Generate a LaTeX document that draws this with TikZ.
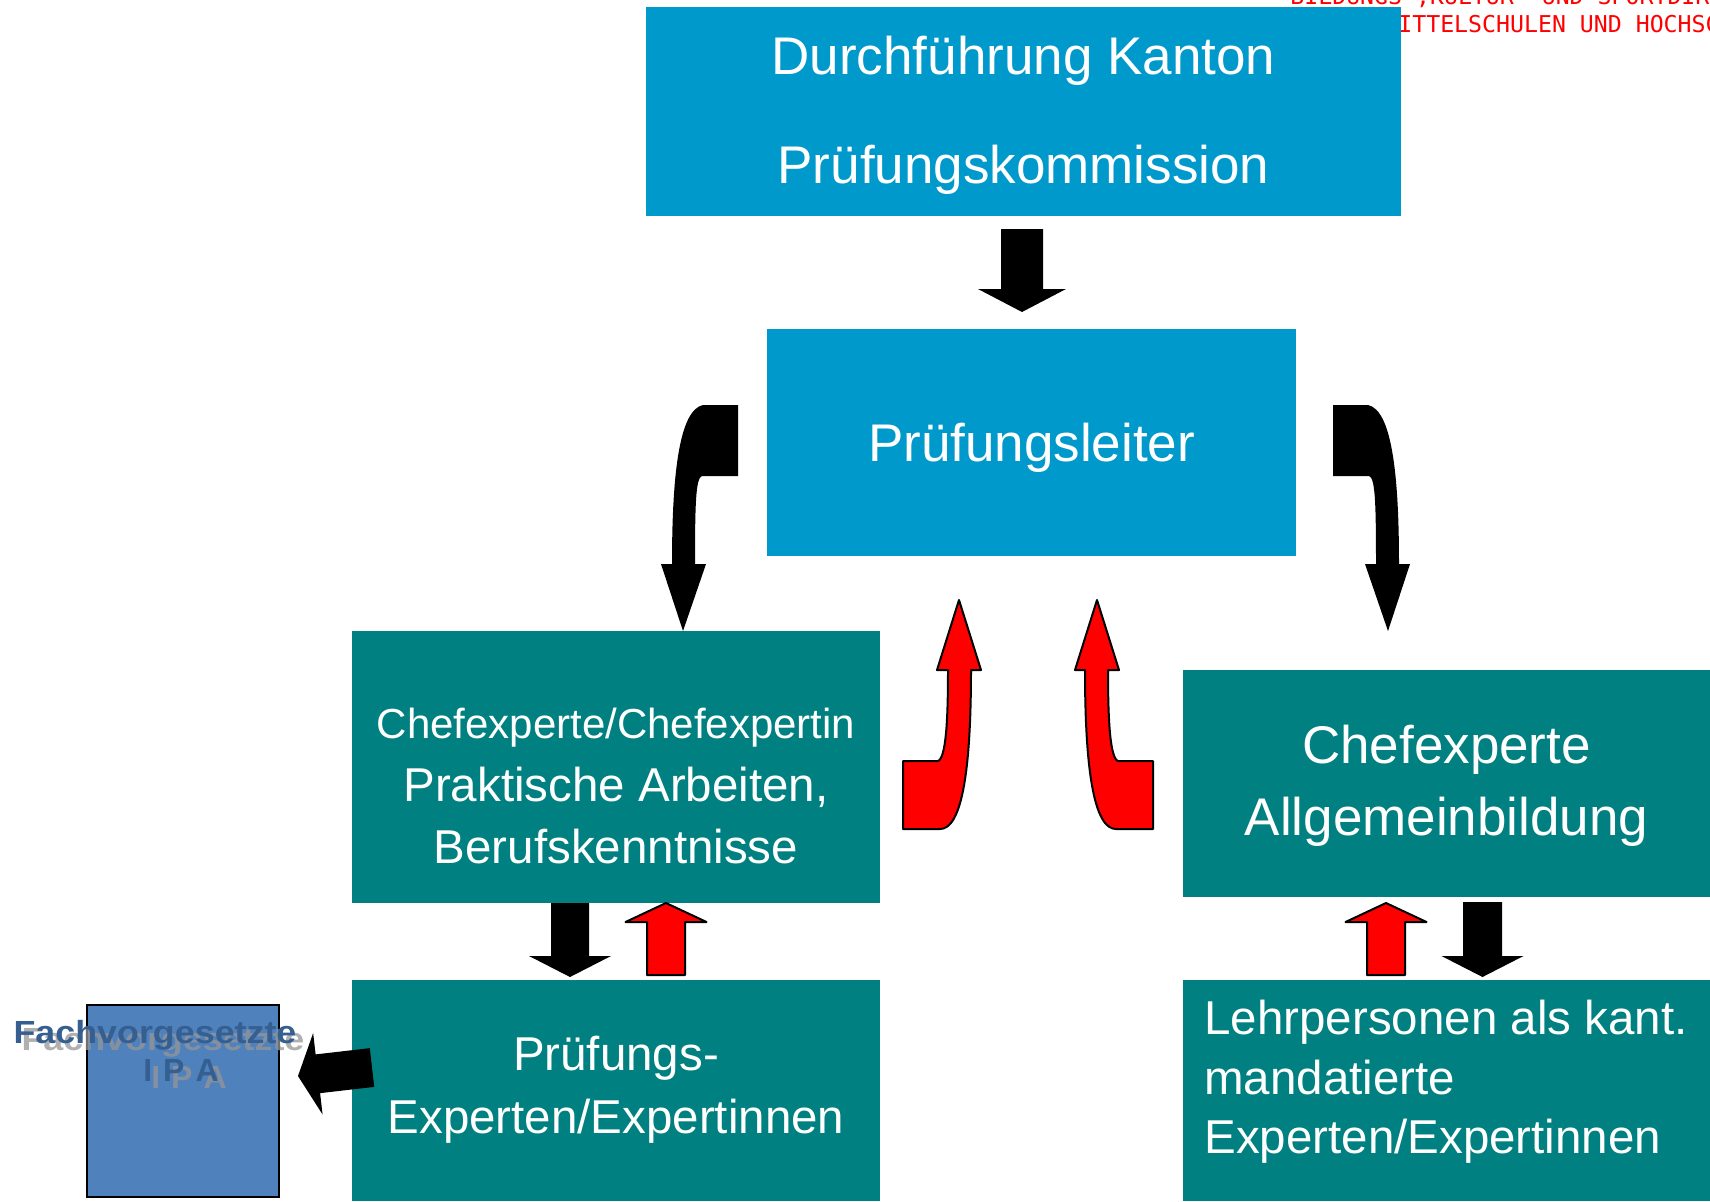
\documentclass[tikz,border=0pt]{standalone}
\usepackage{fontspec}
\setmainfont{Liberation Sans}
\newfontfamily\headfont{DejaVu Sans Mono}
\usepackage{graphicx}
\usetikzlibrary{calc}

\definecolor{kantonblue}{RGB}{0,153,204}
\definecolor{tealgreen}{RGB}{0,128,128}
\definecolor{ipablue}{RGB}{79,129,189}
\definecolor{ipatext}{RGB}{54,95,145}
\definecolor{ipashadow}{RGB}{150,150,150}

\begin{document}
\begin{tikzpicture}[
    x=0.5pt, y=-0.5pt,
    box/.style={rectangle, inner sep=0pt, outer sep=0pt},
    topbox/.style={box, fill=kantonblue},
    tealbox/.style={box, fill=tealgreen},
    ipabox/.style={box, fill=ipablue, draw=black, line width=0.75pt},
    lbl/.style={text=white, inner sep=0pt, anchor=base},
    txtlarge/.style={lbl, font=\fontsize{26.5}{30}\selectfont},
    txtmid/.style={lbl, font=\fontsize{23.75}{28}\selectfont},
    txtsmall/.style={lbl, font=\fontsize{21}{25}\selectfont},
    ipalbl/.style={inner sep=0pt, anchor=base},
    hdr/.style={anchor=base west, inner sep=0pt, text=red, font=\headfont\fontsize{11.6}{13}\selectfont},
    blk/.style={fill=black},
    redblk/.style={fill=red, draw=black, line width=1pt, line join=round},
    pics/blkarrow/.style args={#1/#2/#3/#4}{code={
        \path[pic actions] (-#2,0) -- (#2,0) -- (#2,#1-#4) -- (#3,#1-#4) -- (0,#1)
            -- (-#3,#1-#4) -- (-#2,#1-#4) -- cycle;}},
    pics/bentdown/.style={code={
        \path[pic actions] (0,0) -- (-35,0) .. controls (-58,5) and (-66,65) .. (-66,159)
            -- (-77,159) -- (-55,226) -- (-32,159) -- (-43,159)
            .. controls (-43,95) and (-42,73) .. (-36,71) -- (0,71) -- cycle;}},
    pics/bentup/.style={code={
        \path[pic actions] (0,0) -- (22,70) -- (12,70) .. controls (12,180) and (1,229) .. (-19,229)
            -- (-56,229) -- (-56,161) -- (-21,161) .. controls (-13,158) and (-11,120) .. (-11,70)
            -- (-22,70) -- cycle;}}
]
\useasboundingbox (0,0) rectangle (1710,1201);

% letterhead, partly hidden by the top box
\node[hdr] (hdr1) at (1290,4) {BILDUNGS-,KULTUR- UND SPORTDIREKTION};
\node[hdr] (hdr2) at (1384,32) {MITTELSCHULEN UND HOCHSCHULEN};

% boxes
\node[topbox, minimum width=377.5pt, minimum height=104.5pt] (kanton) at (1023.5,111.5) {};
\node[topbox, minimum width=264.5pt, minimum height=113.5pt] (leiter) at (1031.5,442.5) {};
\node[tealbox, minimum width=264pt, minimum height=136pt] (chefpa) at (616,767) {};
\node[tealbox, minimum width=263.5pt, minimum height=113.5pt] (chefab) at (1446.5,783.5) {};
\node[tealbox, minimum width=264pt, minimum height=110.5pt] (pex) at (616,1090.5) {};
\node[tealbox, minimum width=263.5pt, minimum height=110.5pt] (lehr) at (1446.5,1090.5) {};
\node[ipabox, minimum size=96pt] (fachv) at (183,1101) {};

% box texts
\node[txtlarge] (kanton1) at (1023.5,74) {Durchführung Kanton};
\node[txtlarge] (kanton2) at (1023.5,183) {Prüfungskommission};
\node[txtlarge] (leiter1) at (1031.5,461) {Prüfungsleiter};
\node[txtsmall] (chefpa1) at (616,738) {Chefexperte/Chefexpertin};
\node[txtmid] (chefpa2) at (616,801) {Praktische Arbeiten,};
\node[txtmid] (chefpa3) at (616,863) {Berufskenntnisse};
\node[txtlarge] (chefab1) at (1446.5,763) {Chefexperte};
\node[txtlarge] (chefab2) at (1446.5,835) {Allgemeinbildung};
\node[txtmid] (pex1) at (616,1070) {Prüfungs-};
\node[txtmid] (pex2) at (616,1133) {Experten/Expertinnen};
\node[txtmid, anchor=base west] (lehr1) at (1204,1034) {Lehrpersonen als kant.};
\node[txtmid, anchor=base west] (lehr2) at (1204,1094) {mandatierte};
\node[txtmid, anchor=base west] (lehr3) at (1204,1153) {Experten/Expertinnen};

% Fachvorgesetzte IPA, with shadow
\node[ipalbl, text=ipashadow, opacity=.75, font=\bfseries\fontsize{16}{18}\selectfont] (fachsh) at (163,1050) {\scalebox{1.12}[1]{Fachvorgesetzte}};
\node[ipalbl, text=ipatext, font=\bfseries\fontsize{16}{18}\selectfont] (fachtxt) at (155,1043) {\scalebox{1.12}[1]{Fachvorgesetzte}};
\node[ipalbl, text=ipashadow, opacity=.75, font=\bfseries\fontsize{16}{18}\selectfont] (ipash) at (189,1088) {I\kern5.5pt P\kern5.5pt A};
\node[ipalbl, text=ipatext, font=\bfseries\fontsize{16}{18}\selectfont] (ipatxt) at (181,1081) {I\kern5.5pt P\kern5.5pt A};

% block arrows
\pic[blk] at ($(kanton.south)+(-1.5,13)$) {blkarrow=83/21/44/23};
\pic[blk] at ($(leiter.north west)+(-29,76)$) {bentdown};
\pic[blk, xscale=-1] at ($(leiter.north east)+(37,76)$) {bentdown};
\pic[redblk] at ($(leiter.south)+(-72.5,44)$) {bentup};
\pic[redblk, xscale=-1] at ($(leiter.south)+(65.5,44)$) {bentup};
\pic[blk] at ($(chefpa.south)+(-46,0)$) {blkarrow=74/19/41/21};
\pic[redblk, rotate=180] at ($(pex.north)+(50,-5)$) {blkarrow=72/19/40.5/19};
\pic[redblk, rotate=180] at ($(lehr.north)+(-60.5,-5)$) {blkarrow=72/19/40.5/19};
\pic[blk] at ($(chefab.south)+(36,5)$) {blkarrow=75/19.5/41/21};
\pic[blk, rotate=-83.4] at ($(pex.west)+(20,-23)$) {blkarrow=74.5/19.5/41/20};

\end{tikzpicture}
\end{document}
